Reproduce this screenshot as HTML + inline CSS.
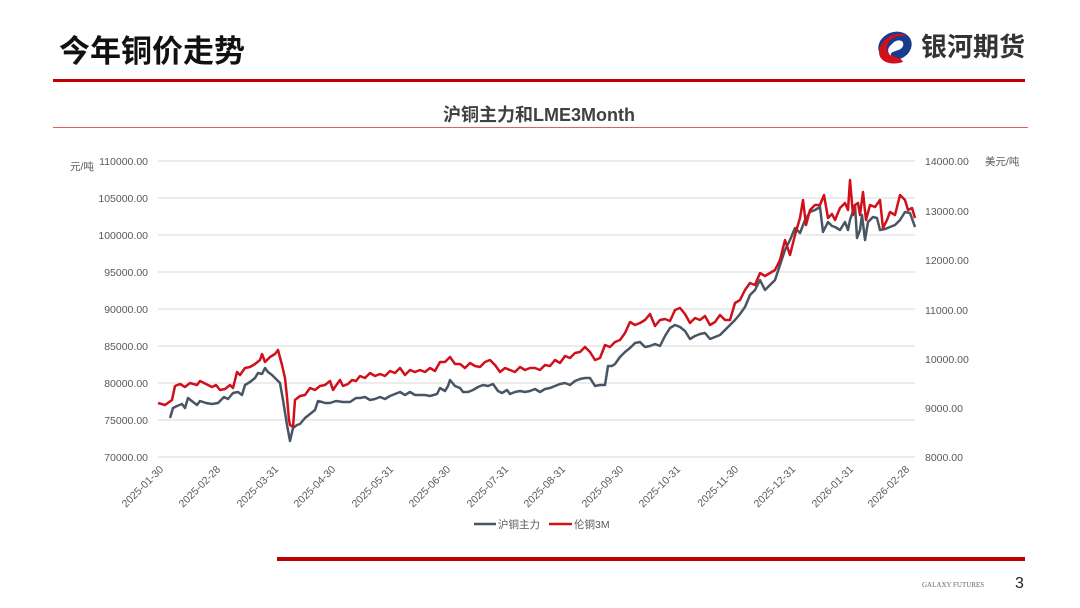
<!DOCTYPE html>
<html><head><meta charset="utf-8"><style>
body{margin:0;width:1080px;height:608px;background:#fff;overflow:hidden;position:relative;font-family:"Liberation Sans","Noto Sans CJK SC",sans-serif}
</style></head><body>
<svg width="1080" height="608" viewBox="0 0 1080 608" xmlns="http://www.w3.org/2000/svg" style="position:absolute;left:0;top:0">
<text x="59" y="62" font-size="31" font-weight="bold" fill="#111" font-family="Liberation Sans, Noto Sans CJK SC, sans-serif">今年铜价走势</text>
<!-- logo -->
<g transform="translate(895,46)">
<ellipse cx="0" cy="0" rx="17" ry="14" fill="#1a3a8c" transform="rotate(-20)"/>
<path d="M-16,6 C-14,-10 4,-16 12,-10 C2,-12 -10,-6 -8,4 C-6,12 6,10 8,16 C-4,20 -16,16 -16,6Z" fill="#d0101b"/>
<path d="M-3,-2 C2,-8 10,-6 8,0 C6,6 -6,4 -4,10 C-8,6 -8,2 -3,-2Z" fill="#fff"/>
</g>
<text x="921" y="56" font-size="26" font-weight="bold" fill="#333" font-family="Liberation Sans, Noto Sans CJK SC, sans-serif">银河期货</text>
<rect x="53" y="79" width="972" height="3" fill="#c00000"/>
<rect x="53" y="127" width="975" height="1" fill="#e06060"/>
<text x="539" y="121" font-size="18" font-weight="bold" fill="#404040" text-anchor="middle" font-family="Liberation Sans, Noto Sans CJK SC, sans-serif">沪铜主力和LME3Month</text>
<!-- grid -->
<g stroke="#d9d9d9" stroke-width="1">
<line x1="158" y1="161" x2="915" y2="161"/><line x1="158" y1="198" x2="915" y2="198"/><line x1="158" y1="235" x2="915" y2="235"/><line x1="158" y1="272" x2="915" y2="272"/><line x1="158" y1="309" x2="915" y2="309"/><line x1="158" y1="346" x2="915" y2="346"/><line x1="158" y1="383" x2="915" y2="383"/><line x1="158" y1="420" x2="915" y2="420"/><line x1="158" y1="457" x2="915" y2="457"/>
</g>
<g font-size="10.5" fill="#595959" text-anchor="end">
<text x="148" y="165">110000.00</text><text x="148" y="202">105000.00</text><text x="148" y="239">100000.00</text><text x="148" y="276">95000.00</text><text x="148" y="313">90000.00</text><text x="148" y="350">85000.00</text><text x="148" y="387">80000.00</text><text x="148" y="424">75000.00</text><text x="148" y="461">70000.00</text>
</g>
<g font-size="10.5" fill="#595959" text-anchor="start">
<text x="925" y="165">14000.00</text><text x="925" y="264">12000.00</text><text x="925" y="314">11000.00</text><text x="925" y="363">10000.00</text><text x="925" y="412">9000.00</text><text x="925" y="461">8000.00</text><text x="925" y="215">13000.00</text>
</g>
<text x="70" y="170" font-size="10.5" fill="#595959">元/吨</text>
<text x="985" y="165" font-size="10.5" fill="#595959">美元/吨</text>
<g font-size="10.5" fill="#595959" text-anchor="end">
<text transform="translate(164,470) rotate(-45)">2025-01-30</text>
<text transform="translate(221,470) rotate(-45)">2025-02-28</text>
<text transform="translate(279,470) rotate(-45)">2025-03-31</text>
<text transform="translate(336,470) rotate(-45)">2025-04-30</text>
<text transform="translate(394,470) rotate(-45)">2025-05-31</text>
<text transform="translate(451,470) rotate(-45)">2025-06-30</text>
<text transform="translate(509,470) rotate(-45)">2025-07-31</text>
<text transform="translate(566,470) rotate(-45)">2025-08-31</text>
<text transform="translate(624,470) rotate(-45)">2025-09-30</text>
<text transform="translate(681,470) rotate(-45)">2025-10-31</text>
<text transform="translate(739,470) rotate(-45)">2025-11-30</text>
<text transform="translate(796,470) rotate(-45)">2025-12-31</text>
<text transform="translate(854,470) rotate(-45)">2026-01-31</text>
<text transform="translate(910,470) rotate(-45)">2026-02-28</text>
</g>
<polyline fill="none" stroke="#4a5563" stroke-width="2.5" stroke-linejoin="round" points="170,418 173,408 177,406 182,404 185,408 188,398 193,402 197,405 200,401 206,403 212,404 218,403 224,397 228,399 233,393 238,392 242,395 245,385 250,382 255,378 258,373 262,374 265,368 268,372 272,375 276,379 280,383 283,400 287,425 290,441 293,428 297,425 300,424 305,418 310,414 315,410 318,401 322,402 325,403 330,403 336,401 343,402 350,402 356,398 360,398 365,397 370,400 375,399 380,397 385,399 390,396 395,394 400,392 405,395 410,392 415,395 420,395 425,395 430,396 437,394 440,388 445,391 448,386 450,380 455,386 460,388 463,392 468,392 473,390 478,387 483,385 488,386 493,384 498,391 502,393 507,390 510,394 515,392 520,391 525,392 530,391 535,389 540,392 545,389 550,388 555,386 560,384 565,383 570,385 575,381 580,379 585,378 590,378 595,386 600,385 605,385 608,366 612,366 615,364 620,357 625,352 630,348 635,343 640,342 645,347 650,346 655,344 660,346 665,336 670,328 675,325 680,327 685,331 690,339 695,336 700,334 705,333 710,339 715,337 720,335 725,330 730,325 735,320 740,314 745,307 750,295 755,290 760,280 765,290 770,285 775,280 780,265 785,250 790,240 795,228 800,233 805,220 810,212 815,210 820,207 823,232 828,222 832,226 835,227 840,230 845,222 848,230 850,220 855,205 857,238 860,230 862,215 865,240 868,222 873,217 877,218 880,230 885,229 890,227 895,225 900,220 905,212 910,213 915,227"/>
<polyline fill="none" stroke="#d0101b" stroke-width="2.5" stroke-linejoin="round" points="158,403 165,405 172,400 175,386 180,384 185,387 190,383 197,385 200,381 206,384 212,387 216,385 220,390 225,389 230,385 233,388 237,372 240,375 245,368 250,367 255,364 260,360 262,354 265,362 270,357 275,354 278,350 282,365 285,378 287,397 289,420 290,425 293,427 295,400 300,396 305,395 310,388 315,390 320,386 325,385 330,381 333,390 335,387 340,380 343,386 348,384 352,380 356,381 360,376 365,378 370,373 375,376 380,374 385,376 390,371 395,373 400,368 405,375 410,370 415,372 420,370 425,372 430,368 435,371 440,362 445,362 450,357 455,364 460,364 465,368 470,363 475,366 480,367 485,362 490,360 495,365 500,372 505,368 510,370 515,372 520,367 525,370 530,368 535,368 540,370 545,365 550,366 555,360 560,363 565,356 570,358 575,353 580,352 585,347 590,352 595,360 600,358 605,345 610,347 615,342 620,340 625,333 630,322 635,325 640,323 645,320 650,314 655,326 660,320 665,319 670,321 675,310 680,308 685,314 690,323 695,318 700,320 705,316 710,325 715,322 720,315 725,320 730,320 735,303 740,300 745,290 750,283 755,285 760,273 765,276 770,273 775,270 780,260 785,240 790,255 795,235 800,218 803,200 806,225 810,210 815,205 820,205 824,195 828,218 832,214 835,220 840,208 845,203 848,210 850,180 853,215 855,205 858,203 860,215 863,192 866,220 870,205 875,207 880,200 883,228 887,220 890,212 895,215 900,195 905,200 908,210 912,208 915,218"/>
<line x1="474" y1="524" x2="496" y2="524" stroke="#4a5563" stroke-width="2.5"/>
<text x="498" y="528" font-size="10.5" fill="#595959">沪铜主力</text>
<line x1="549" y1="524" x2="572" y2="524" stroke="#d0101b" stroke-width="2.5"/>
<text x="574" y="528" font-size="10.5" fill="#595959">伦铜3M</text>
<rect x="277" y="557" width="748" height="4" fill="#c00000"/>
<text x="922" y="587" font-size="7" fill="#666" font-family="Liberation Serif, serif">GALAXY FUTURES</text>
<text x="1015" y="588" font-size="16" fill="#222">3</text>
</svg>
</body></html>
